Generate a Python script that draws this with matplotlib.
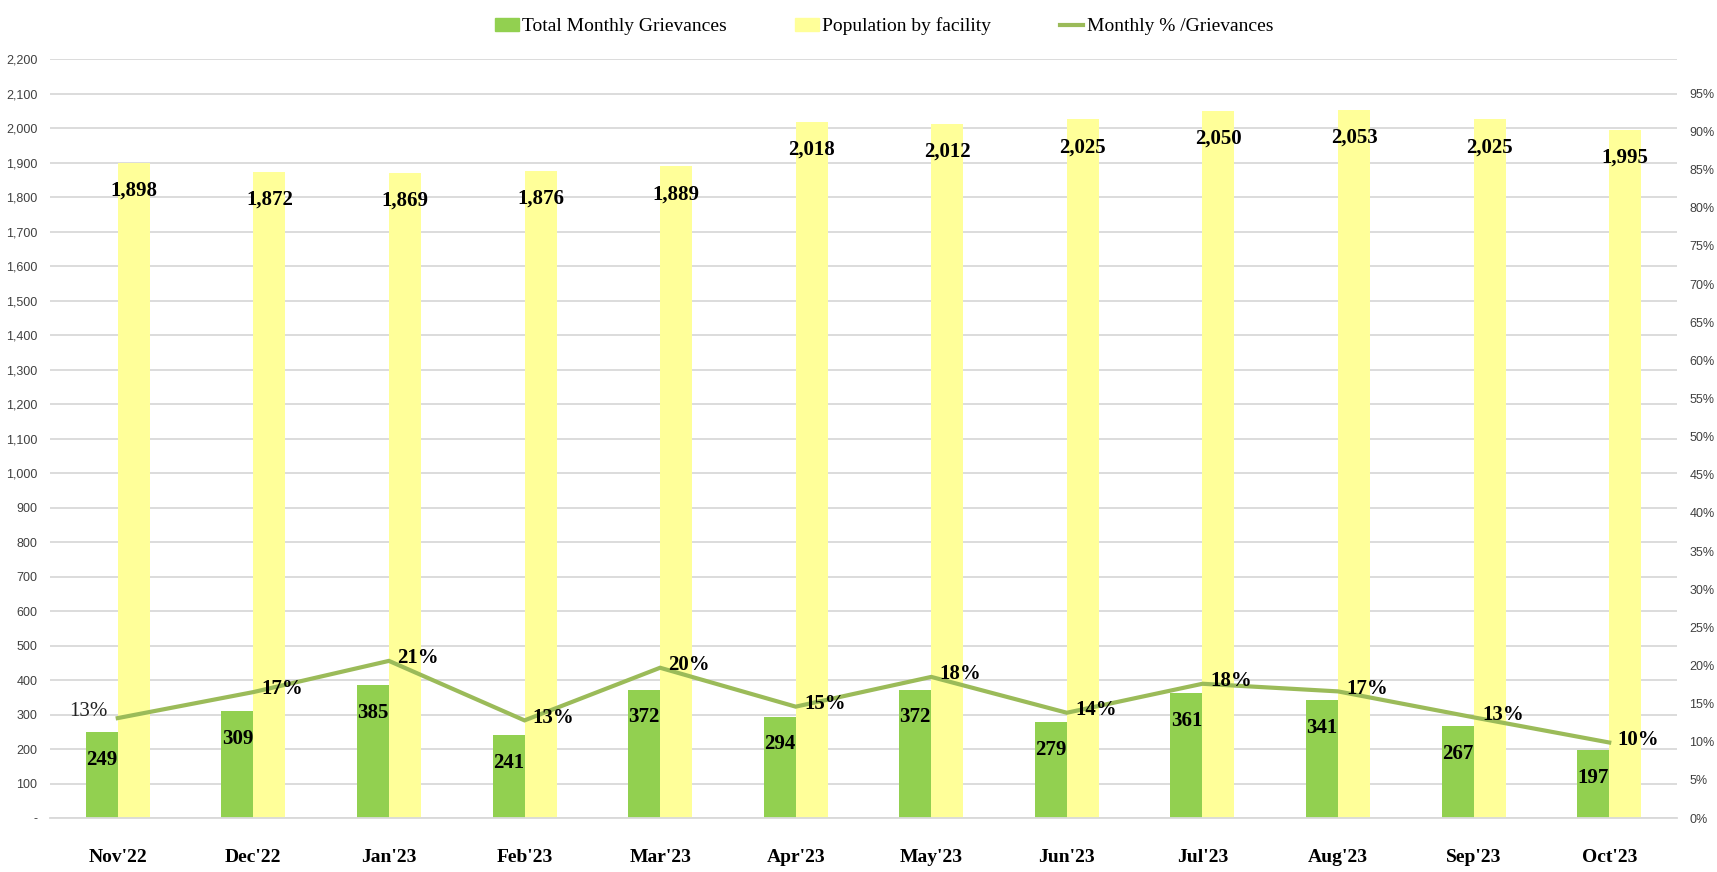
import numpy as np
import matplotlib
matplotlib.use("Agg")
import matplotlib.pyplot as plt
from matplotlib.ticker import FuncFormatter, MultipleLocator
from matplotlib.lines import Line2D
from matplotlib.patches import Patch

months = ["Nov'22", "Dec'22", "Jan'23", "Feb'23", "Mar'23", "Apr'23",
          "May'23", "Jun'23", "Jul'23", "Aug'23", "Sep'23", "Oct'23"]
grievances = [249, 309, 385, 241, 372, 294, 372, 279, 361, 341, 267, 197]
population = [1898, 1872, 1869, 1876, 1889, 2018, 2012, 2025, 2050, 2053, 2025, 1995]
pct = [0.131, 0.1651, 0.206, 0.128, 0.197, 0.146, 0.185, 0.138, 0.176, 0.166, 0.132, 0.099]

green = "#92D050"
yellow = "#FFFF99"
line_col = "#9BBB59"
grid_col = "#D9D9D9"
serif = ["Liberation Serif", "DejaVu Serif"]
narrow = ["Liberation Sans Narrow", "Liberation Sans", "DejaVu Sans"]

fig = plt.figure(figsize=(17.17, 8.72), dpi=100)
ax = fig.add_axes([0.0291, 0.0619, 0.9476, 0.8704])
ax2 = ax.twinx()

x = np.arange(len(months))
w = 0.236
ax.bar(x - w / 2, grievances, w, color=green, zorder=2)
ax.bar(x + w / 2, population, w, color=yellow, zorder=2)
ax2.plot(x, pct, color=line_col, lw=3, solid_joinstyle="miter")

ax.set_xlim(-0.5, len(months) - 0.5)
ax.set_ylim(0, 2200)
ax2.set_ylim(0, 0.995)
ax.yaxis.set_major_locator(MultipleLocator(100))
ax2.set_yticks(np.arange(0, 0.951, 0.05))
ax.yaxis.set_major_formatter(FuncFormatter(lambda v, p: "-" if v == 0 else f"{v:,.0f}"))
ax2.yaxis.set_major_formatter(FuncFormatter(lambda v, p: f"{v * 100:.0f}%"))

ax.set_axisbelow(True)
ax.grid(axis="y", color=grid_col, lw=1.3)
for a in (ax, ax2):
    for s in a.spines.values():
        s.set_visible(False)
    a.tick_params(length=0)
ax.spines["bottom"].set_visible(True)
ax.spines["bottom"].set_color(grid_col)
ax.spines["bottom"].set_linewidth(1.3)

ax.tick_params(axis="y", pad=9)
ax2.tick_params(axis="y", pad=9)
for lab in ax.get_yticklabels() + ax2.get_yticklabels():
    lab.set_family(narrow)
    lab.set_fontsize(9)
    lab.set_color("#404040")

ax.set_xticks(x)
ax.set_xticklabels(months, family=serif, fontsize=14, fontweight="bold")
ax.tick_params(axis="x", pad=22)

lab_kw = dict(family=serif, fontsize=15, fontweight="bold", color="black",
              textcoords="offset points", va="center")
for i in range(len(months)):
    ax.annotate(f"{grievances[i]}", (x[i] - w / 2, grievances[i]),
                xytext=(0, -20), ha="center", **lab_kw)
    ax.annotate(f"{population[i]:,}", (x[i] + w / 2, population[i]),
                xytext=(0, -20), ha="center", **lab_kw)
    if i == 0:
        ax2.annotate(f"{pct[i]:.0%}", (x[i], pct[i]), xytext=(-7, 5), ha="right",
                     family=serif, fontsize=15, color="#222222",
                     textcoords="offset points", va="center")
    else:
        ax2.annotate(f"{pct[i]:.0%}", (x[i], pct[i]), xytext=(6, 2), ha="left",
                     **lab_kw)

handles = [Patch(color=green), Patch(color=yellow),
           Line2D([], [], color=line_col, lw=3)]
labels = ["Total Monthly Grievances", "Population by facility", "Monthly % /Grievances"]
fig.legend(handles, labels, loc="upper center", bbox_to_anchor=(0.515, 1.0), ncol=3,
           frameon=False, prop={"family": serif, "size": 14}, columnspacing=3.5,
           handlelength=1.2, handletextpad=0.2)

fig.savefig("out.png", dpi=100)
